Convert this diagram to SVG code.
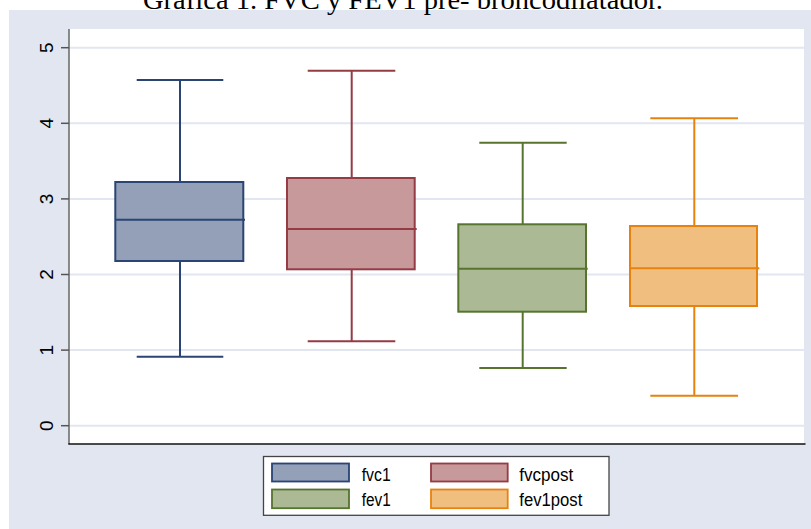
<svg xmlns="http://www.w3.org/2000/svg" width="811" height="529" viewBox="0 0 811 529">
<style>
.title{font-family:"Liberation Serif","Times New Roman",serif;font-size:28px;fill:#000}
.tick{font-family:"Liberation Sans",Arial,sans-serif;font-size:19px;fill:#000}
.leg{font-family:"Liberation Sans",Arial,sans-serif;font-size:18px;fill:#000}
.grid{stroke:#e2e6f0;stroke-width:2}
.tm{stroke:#555;stroke-width:1.5}
.b1{fill:#93a0b7;stroke:#2a4474}
.b2{fill:#c8999b;stroke:#953b43}
.b3{fill:#abba94;stroke:#56742e}
.b4{fill:#f0bf80;stroke:#e8820f}
.box rect{stroke-width:2}
.box line{stroke-width:2}
.s1{stroke:#2a4474}.s2{stroke:#953b43}.s3{stroke:#56742e}.s4{stroke:#e8820f}
</style>
<rect x="0" y="0" width="811" height="529" fill="#ffffff"/>
<rect x="9" y="10" width="802" height="519" fill="#e1e6f0"/>
<text class="title" x="403" y="9" text-anchor="middle" textLength="520" lengthAdjust="spacingAndGlyphs">Gráfica 1. FVC y FEV1 pre- broncodilatador.</text>
<rect x="69" y="29" width="735" height="415" fill="#ffffff"/>
<g id="grid">
<line class="grid" x1="69" y1="425.7" x2="804" y2="425.7"/>
<line class="grid" x1="69" y1="350.1" x2="804" y2="350.1"/>
<line class="grid" x1="69" y1="274.5" x2="804" y2="274.5"/>
<line class="grid" x1="69" y1="198.9" x2="804" y2="198.9"/>
<line class="grid" x1="69" y1="123.3" x2="804" y2="123.3"/>
<line class="grid" x1="69" y1="47.7" x2="804" y2="47.7"/>
</g>
<g id="axis">
<line x1="69" y1="29" x2="69" y2="444" stroke="#666" stroke-width="1.5"/>
<line x1="68.3" y1="444" x2="805.5" y2="444" stroke="#111" stroke-width="1.5"/>
<line class="tm" x1="61" y1="425.7" x2="69" y2="425.7"/>
<line class="tm" x1="61" y1="350.1" x2="69" y2="350.1"/>
<line class="tm" x1="61" y1="274.5" x2="69" y2="274.5"/>
<line class="tm" x1="61" y1="198.9" x2="69" y2="198.9"/>
<line class="tm" x1="61" y1="123.3" x2="69" y2="123.3"/>
<line class="tm" x1="61" y1="47.7" x2="69" y2="47.7"/>
<text class="tick" transform="translate(53,425.7) rotate(-90)" text-anchor="middle">0</text>
<text class="tick" transform="translate(53,350.1) rotate(-90)" text-anchor="middle">1</text>
<text class="tick" transform="translate(53,274.5) rotate(-90)" text-anchor="middle">2</text>
<text class="tick" transform="translate(53,198.9) rotate(-90)" text-anchor="middle">3</text>
<text class="tick" transform="translate(53,123.3) rotate(-90)" text-anchor="middle">4</text>
<text class="tick" transform="translate(53,47.7) rotate(-90)" text-anchor="middle">5</text>
</g>
<g id="connectors">
<line class="s1" stroke-width="2" x1="180" y1="80" x2="180" y2="182"/>
<line class="s1" stroke-width="2" x1="180" y1="261" x2="180" y2="356.7"/>
<line class="s2" stroke-width="2" x1="351.7" y1="70.7" x2="351.7" y2="178"/>
<line class="s2" stroke-width="2" x1="351.7" y1="269.3" x2="351.7" y2="341.3"/>
<line class="s3" stroke-width="2" x1="522.7" y1="142.7" x2="522.7" y2="224.3"/>
<line class="s3" stroke-width="2" x1="522.7" y1="311.7" x2="522.7" y2="368"/>
<line class="s4" stroke-width="2" x1="694.3" y1="118.3" x2="694.3" y2="226"/>
<line class="s4" stroke-width="2" x1="694.3" y1="306" x2="694.3" y2="395.7"/>
</g>
<g id="fvc1" class="box">
<line class="s1" x1="136.7" y1="80" x2="223.3" y2="80"/>
<line class="s1" x1="136.7" y1="356.7" x2="223.3" y2="356.7"/>
<rect class="b1" x="115.3" y="182" width="128" height="79"/>
<line class="s1" x1="115.3" y1="219.7" x2="245" y2="219.7"/>
</g>
<g id="fvcpost" class="box">
<line class="s2" x1="307.7" y1="70.7" x2="395.3" y2="70.7"/>
<line class="s2" x1="307.7" y1="341.3" x2="395.3" y2="341.3"/>
<rect class="b2" x="287" y="178" width="127.7" height="91.3"/>
<line class="s2" x1="287" y1="229" x2="416.7" y2="229"/>
</g>
<g id="fev1" class="box">
<line class="s3" x1="479.3" y1="142.7" x2="566.7" y2="142.7"/>
<line class="s3" x1="479.3" y1="368" x2="566.7" y2="368"/>
<rect class="b3" x="458.3" y="224.3" width="127.7" height="87.4"/>
<line class="s3" x1="458.3" y1="268.7" x2="587.7" y2="268.7"/>
</g>
<g id="fev1post" class="box">
<line class="s4" x1="650.3" y1="118.3" x2="738" y2="118.3"/>
<line class="s4" x1="650.3" y1="395.7" x2="738" y2="395.7"/>
<rect class="b4" x="630" y="226" width="127" height="80"/>
<line class="s4" x1="630" y1="268.3" x2="759.3" y2="268.3"/>
</g>
<g id="legend">
<rect x="263.5" y="456.5" width="345.5" height="58.8" fill="#ffffff" stroke="#444" stroke-width="1.3"/>
<rect class="b1" x="272" y="463.5" width="77" height="18" stroke-width="1.8"/>
<rect class="b2" x="431" y="463.5" width="76.7" height="18" stroke-width="1.8"/>
<rect class="b3" x="272" y="489.5" width="77" height="18.7" stroke-width="1.8"/>
<rect class="b4" x="431" y="489.5" width="76.7" height="18.7" stroke-width="1.8"/>
<text class="leg" x="361.7" y="480.7" textLength="29" lengthAdjust="spacingAndGlyphs">fvc1</text>
<text class="leg" x="519.3" y="480.7" textLength="54" lengthAdjust="spacingAndGlyphs">fvcpost</text>
<text class="leg" x="361.7" y="506" textLength="29" lengthAdjust="spacingAndGlyphs">fev1</text>
<text class="leg" x="519.3" y="506" textLength="63" lengthAdjust="spacingAndGlyphs">fev1post</text>
</g>
</svg>
